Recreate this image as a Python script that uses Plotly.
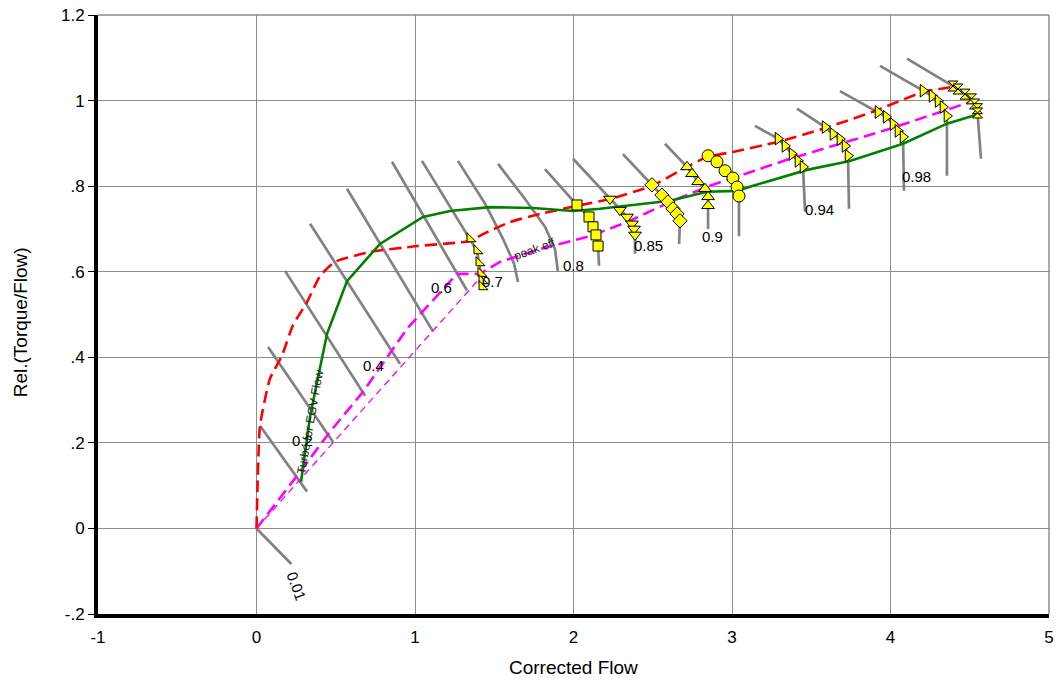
import plotly.graph_objects as go

# ---------------- axes ----------------
x_ticks = [-1, 0, 1, 2, 3, 4, 5]
x_tick_text = ["-1", "0", "1", "2", "3", "4", "5"]
y_ticks = [-0.2, 0, 0.2, 0.4, 0.6, 0.8, 1.0, 1.2]
y_tick_text = ["-.2", "0", ".2", ".4", ".6", ".8", "1", "1.2"]

# ---------------- operating lines ----------------
red_x = [0.0, 0.008, 0.022, 0.085, 0.161, 0.230, 0.319, 0.401, 0.495, 0.716, 1.013, 1.347,
         1.429, 1.599, 1.789, 2.022, 2.230, 2.495, 2.716, 2.842, 3.006, 3.284, 3.574,
         3.890, 4.205, 4.420, 4.440]
red_y = [0.0, 0.120, 0.240, 0.350, 0.404, 0.475, 0.529, 0.590, 0.623, 0.646, 0.660, 0.672,
         0.688, 0.716, 0.735, 0.754, 0.770, 0.801, 0.845, 0.868, 0.880, 0.903, 0.934,
         0.974, 1.020, 1.034, 1.037]

mag_x = [0.0, 0.256, 0.464, 0.672, 0.950, 1.265, 1.410, 1.536, 1.789, 2.104, 2.338, 2.609,
         2.861, 3.177, 3.366, 3.681, 3.997, 4.312, 4.520]
mag_y = [0.0, 0.123, 0.226, 0.319, 0.467, 0.595, 0.595, 0.623, 0.653, 0.683, 0.716, 0.763,
         0.801, 0.840, 0.864, 0.899, 0.934, 0.973, 0.999]

thin_x = [0.0, 1.41]
thin_y = [0.0, 0.585]

green_x = [0.281, 0.338, 0.445, 0.571, 0.779, 1.050, 1.221, 1.473, 1.744, 1.997, 2.167,
           2.338, 2.609, 2.842, 3.032, 3.133, 3.473, 3.744, 4.079, 4.356, 4.564]
green_y = [0.109, 0.262, 0.455, 0.578, 0.665, 0.728, 0.742, 0.751, 0.749, 0.742, 0.747,
           0.754, 0.766, 0.787, 0.789, 0.801, 0.838, 0.859, 0.899, 0.946, 0.969]

# ---------------- speed lines without markers ----------------
s001_x, s001_y = [0.0, 0.22], [0.0, -0.083]
s01_x, s01_y = [0.022, 0.319], [0.240, 0.086]
s02_x, s02_y = [0.073, 0.483], [0.424, 0.202]
s03_x, s03_y = [0.180, 0.685], [0.602, 0.310]
s04_x, s04_y = [0.338, 0.905], [0.712, 0.385]
s05_x, s05_y = [0.571, 1.114], [0.794, 0.460]
s06_x, s06_y = [0.855, 1.328], [0.857, 0.556]
s075_x, s075_y = [1.271, 1.442, 1.555, 1.625, 1.650], [0.859, 0.759, 0.677, 0.619, 0.576]
s08_x, s08_y = [1.524, 1.694, 1.820, 1.883, 1.902], [0.852, 0.770, 0.705, 0.653, 0.600]

# ---------------- speed lines with measured points ----------------
# (start of line, measured points, end of vertical tail)
s07_start = (1.044, 0.859)
s07_mx = [1.347, 1.391, 1.404, 1.416, 1.423, 1.423]
s07_my = [0.677, 0.649, 0.621, 0.596, 0.579, 0.565]
s07_end = None

s082_start = (1.820, 0.840)
s082_mx = [2.022, 2.098, 2.123, 2.142, 2.155]
s082_my = [0.756, 0.728, 0.705, 0.686, 0.660]
s082_end = (2.161, 0.614)

s085_start = (1.997, 0.864)
s085_mx = [2.230, 2.293, 2.338, 2.369, 2.382, 2.388]
s085_my = [0.770, 0.744, 0.728, 0.712, 0.700, 0.686]
s085_end = (2.388, 0.642)

s087_start = (2.312, 0.875)
s087_mx = [2.495, 2.558, 2.596, 2.628, 2.653, 2.672]
s087_my = [0.803, 0.779, 0.763, 0.747, 0.735, 0.719]
s087_end = (2.666, 0.665)

s09_start = (2.577, 0.899)
s09_mx = [2.716, 2.748, 2.786, 2.830, 2.849, 2.849]
s09_my = [0.845, 0.829, 0.810, 0.794, 0.775, 0.754]
s09_end = (2.849, 0.700)

s092_start = None
s092_mx = [2.849, 2.905, 2.956, 3.006, 3.032, 3.044]
s092_my = [0.871, 0.857, 0.836, 0.819, 0.798, 0.777]
s092_end = (3.044, 0.683)

s094_start = (3.145, 0.941)
s094_mx = [3.290, 3.334, 3.379, 3.416, 3.448]
s094_my = [0.911, 0.894, 0.875, 0.859, 0.845]
s094_end = (3.461, 0.740)

s096_start = (3.410, 0.981)
s096_mx = [3.587, 3.637, 3.681, 3.713, 3.732]
s096_my = [0.938, 0.922, 0.910, 0.894, 0.871]
s096_end = (3.738, 0.747)

s098_start = (3.681, 1.022)
s098_mx = [3.921, 3.972, 4.016, 4.047, 4.079]
s098_my = [0.973, 0.962, 0.945, 0.929, 0.915]
s098_end = (4.085, 0.789)

s100_start = (3.934, 1.081)
s100_mx = [4.205, 4.262, 4.300, 4.331, 4.356]
s100_my = [1.023, 1.011, 0.999, 0.985, 0.964]
s100_end = (4.356, 0.824)

s102_start = (4.104, 1.098)
s102_mx = [4.394, 4.426, 4.470, 4.511, 4.530, 4.549, 4.549]
s102_my = [1.034, 1.027, 1.015, 1.004, 0.992, 0.981, 0.971]
s102_end = (4.571, 0.864)

# ---------------- labels ----------------
label_text = ["0.01", "0.2", "0.4", "0.6", "0.7", "0.8", "0.85", "0.9", "0.94", "0.98"]
label_x = [0.255, 0.29, 0.735, 1.170, 1.490, 1.997, 2.470, 2.880, 3.555, 4.167]
label_y = [-0.135, 0.205, 0.380, 0.564, 0.576, 0.614, 0.662, 0.683, 0.746, 0.822]
label_angle = [70, 0, 0, 0, 0, 0, 0, 0, 0, 0]

GRAY = "#828282"
fig = go.Figure()

plain = [(s001_x, s001_y), (s01_x, s01_y), (s02_x, s02_y), (s03_x, s03_y), (s04_x, s04_y),
         (s05_x, s05_y), (s06_x, s06_y), (s075_x, s075_y), (s08_x, s08_y)]
for xs, ys in plain:
    fig.add_trace(go.Scatter(x=xs, y=ys, mode="lines", line=dict(color=GRAY, width=2.7),
                             hoverinfo="skip", showlegend=False))

marked = [
    (s07_start, s07_mx, s07_my, s07_end, "triangle-sw", 10),
    (s082_start, s082_mx, s082_my, s082_end, "square", 10),
    (s085_start, s085_mx, s085_my, s085_end, "triangle-down", 11),
    (s087_start, s087_mx, s087_my, s087_end, "diamond", 11),
    (s09_start, s09_mx, s09_my, s09_end, "triangle-up", 11),
    (s092_start, s092_mx, s092_my, s092_end, "circle", 12),
    (s094_start, s094_mx, s094_my, s094_end, "triangle-right", 11),
    (s096_start, s096_mx, s096_my, s096_end, "triangle-right", 11),
    (s098_start, s098_mx, s098_my, s098_end, "triangle-right", 11),
    (s100_start, s100_mx, s100_my, s100_end, "triangle-right", 11),
    (s102_start, s102_mx, s102_my, s102_end, "hourglass", 10),
]
for start, mx, my, end, sym, size in marked:
    lx = ([start[0]] if start else []) + mx + ([end[0]] if end else [])
    ly = ([start[1]] if start else []) + my + ([end[1]] if end else [])
    fig.add_trace(go.Scatter(x=lx, y=ly, mode="lines", line=dict(color=GRAY, width=2.7),
                             hoverinfo="skip", showlegend=False))

fig.add_trace(go.Scatter(x=thin_x, y=thin_y, mode="lines",
                         line=dict(color="#ff00ff", width=1.3, dash="7px,5px"), showlegend=False))
fig.add_trace(go.Scatter(x=mag_x, y=mag_y, mode="lines",
                         line=dict(color="#ff00ff", width=2.6, dash="12px,6px"), showlegend=False))
fig.add_trace(go.Scatter(x=red_x, y=red_y, mode="lines", line_shape="spline",
                         line=dict(color="#ff0000", width=2.6, dash="12px,6px", smoothing=0.5),
                         showlegend=False))
fig.add_trace(go.Scatter(x=green_x, y=green_y, mode="lines",
                         line=dict(color="#008000", width=2.6), showlegend=False))

for start, mx, my, end, sym, size in marked:
    fig.add_trace(go.Scatter(x=mx, y=my, mode="markers",
                             marker=dict(symbol=sym, size=size, color="#ffff00",
                                         line=dict(color="black", width=1)),
                             showlegend=False))

annotations = []
for t, x, y, a in zip(label_text, label_x, label_y, label_angle):
    annotations.append(dict(x=x, y=y, xref="x", yref="y", text=t, showarrow=False,
                            textangle=a, font=dict(size=15, color="black")))
annotations.append(dict(x=1.757, y=0.654, xref="x", yref="y", text="peak eff", showarrow=False,
                        textangle=-20, font=dict(size=12, color="#222")))
annotations.append(dict(x=0.338, y=0.249, xref="x", yref="y", text="Turbo for EGV Flow",
                        showarrow=False, textangle=-80, font=dict(size=12, color="#222")))
annotations.append(dict(x=0.4995, y=-0.09, xref="paper", yref="paper", text="Corrected Flow",
                        showarrow=False, font=dict(size=19, color="black"), yanchor="middle"))
annotations.append(dict(x=-0.082, y=0.487, xref="paper", yref="paper", text="Rel.(Torque/Flow)",
                        showarrow=False, textangle=-90, font=dict(size=19, color="black"),
                        xanchor="center"))

fig.update_layout(
    width=1057, height=686,
    margin=dict(l=98, r=8, t=15, b=72, autoexpand=False),
    paper_bgcolor="white", plot_bgcolor="white",
    font=dict(family="Liberation Sans, Arial, sans-serif", color="black"),
    annotations=annotations,
    shapes=[
        dict(type="line", xref="paper", yref="paper", x0=0, x1=1, y0=1, y1=1,
             line=dict(color="#8c8c8c", width=1.5), layer="below"),
        dict(type="line", xref="paper", yref="paper", x0=1, x1=1, y0=0, y1=1,
             line=dict(color="#8c8c8c", width=1.5), layer="below"),
    ],
    xaxis=dict(range=[-1, 5], tickvals=x_ticks, ticktext=x_tick_text, showgrid=True,
               gridcolor="#8c8c8c", gridwidth=1, automargin=False,
               zeroline=False, showline=True, linecolor="black", linewidth=4,
               ticks="outside", ticklen=5, tickcolor="rgba(0,0,0,0)", tickfont=dict(size=17),
               fixedrange=True),
    yaxis=dict(range=[-0.2, 1.2], tickvals=y_ticks, ticktext=y_tick_text, showgrid=True,
               gridcolor="#8c8c8c", gridwidth=1, zeroline=False, showline=True,
               automargin=False,
               linecolor="black", linewidth=4, ticks="outside", ticklen=6, tickcolor="black",
               tickfont=dict(size=17), fixedrange=True),
)

fig.write_html("out.html", config={"displayModeBar": False},
               post_script="document.body.style.margin='0';"
                           "document.body.style.overflow='hidden';")
